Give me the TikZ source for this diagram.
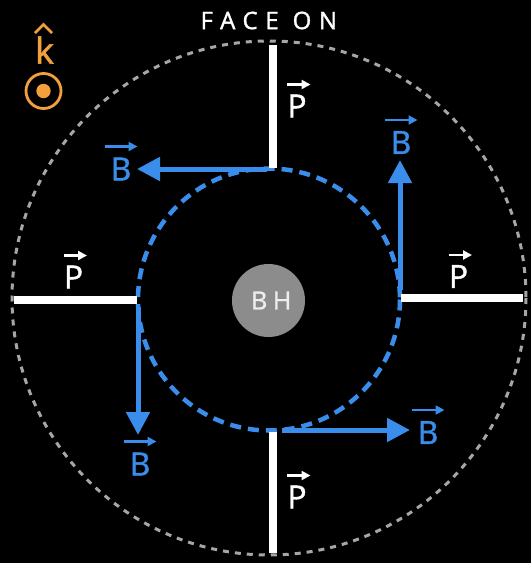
\documentclass[tikz,border=0pt]{standalone}
\usepackage{fontspec}
\setmainfont{Open Sans}[FakeBold=1.2]
\usetikzlibrary{arrows.meta}
\definecolor{fieldblue}{HTML}{3A8DEB}
\definecolor{korange}{HTML}{F2A03D}
\definecolor{bhgray}{HTML}{8C8C8C}
\definecolor{ringgray}{HTML}{A6A6A6}
\begin{document}
\begin{tikzpicture}[x=1pt,y=-1pt,
  bar/.style={white, line width=8pt},
  bfield/.style={fieldblue, line width=5pt, -{Triangle[length=23pt,width=23pt]}},
  vecarrow/.style={line width=2.2pt, -{Triangle[length=9pt,width=9pt]}},
  blabel/.style={text=fieldblue, font=\fontsize{32}{32}\selectfont\addfontfeature{FakeBold=1.2}, inner sep=0pt},
  plabel/.style={text=white, font=\fontsize{32}{32}\selectfont\addfontfeature{FakeBold=1.2}, inner sep=0pt},
  ]
\fill[black] (0,0) rectangle (531,563);
\useasboundingbox (0,0) rectangle (531,563);
% rings
\draw[ringgray, line width=3pt, dash pattern=on 6pt off 6pt] (269,298) circle[radius=257];
\draw[fieldblue, line width=4.5pt, dash pattern=on 11pt off 7pt] (269,299.5) circle[radius=131];
% bars
\coordinate (tA) at (273,45);  \coordinate (tB) at (273,168);
\coordinate (rA) at (401,297.5); \coordinate (rB) at (523,297.5);
\coordinate (lA) at (14,299.5); \coordinate (lB) at (137,299.5);
\coordinate (bA) at (273,432); \coordinate (bB) at (273,553);
\draw[bar] (tA) -- (tB);
\draw[bar] (rA) -- (rB);
\draw[bar] (lA) -- (lB);
\draw[bar] (bA) -- (bB);
% field arrows
\coordinate (ft0) at (267,169); \coordinate (ft1) at (137,169);
\coordinate (fr0) at (400,290); \coordinate (fr1) at (400,160);
\coordinate (fl0) at (138,307); \coordinate (fl1) at (138,435);
\coordinate (fb0) at (282,430); \coordinate (fb1) at (410,430);
\draw[bfield] (ft0) -- (ft1);
\draw[bfield] (fr0) -- (fr1);
\draw[bfield] (fl0) -- (fl1);
\draw[bfield] (fb0) -- (fb1);
% black hole
\node[circle, fill=bhgray, minimum size=73pt, inner sep=0pt, text=white!93!black,
  font=\fontsize{25}{25}\selectfont\addfontfeature{LetterSpace=22,FakeBold=1.2}] (bh) at (268.5,300.5) {\hspace*{0.22em}BH};
% title
\node[text=white, inner sep=0pt, font=\fontsize{24}{24}\selectfont\addfontfeature{LetterSpace=32,FakeBold=1.5}] (title) at (265,20.5) {\hspace*{0.32em}FACE ON};
% k hat
\node[text=korange, inner sep=0pt, font=\fontsize{36}{36}\selectfont\addfontfeature{FakeBold=1.5}] (k) at (44.5,50) {k};
\coordinate (hatL) at (35,33); \coordinate (hatT) at (43.5,24.5); \coordinate (hatR) at (52,33);
\draw[korange, line width=2.7pt] (hatL) -- (hatT) -- (hatR);
\node[circle, draw=korange, line width=2.8pt, minimum size=35pt, inner sep=0pt] (kring) at (43.5,91) {};
\fill[korange] (kring.center) circle[radius=7.2];
% P labels
\node[plabel] (pT) at (297,106) {P};
\node[plabel] (pR) at (458.5,276.5) {P};
\node[plabel] (pL) at (73.5,277) {P};
\node[plabel] (pB) at (297,497) {P};
\foreach \n in {pT,pR,pL,pB}{
  \draw[white, vecarrow] ([xshift=-10pt,yshift=21.5pt]\n.center) -- ([xshift=13.5pt,yshift=21.5pt]\n.center);
}
% B labels
\node[blabel] (bTL) at (121,169) {B};
\node[blabel] (bR) at (401,142.5) {B};
\node[blabel] (bL) at (140,464) {B};
\node[blabel] (bBR) at (428,432.5) {B};
\foreach \n in {bTL,bR,bL,bBR}{
  \draw[fieldblue, vecarrow] ([xshift=-16.5pt,yshift=22.5pt]\n.center) -- ([xshift=16.5pt,yshift=22.5pt]\n.center);
}
\end{tikzpicture}
\end{document}
